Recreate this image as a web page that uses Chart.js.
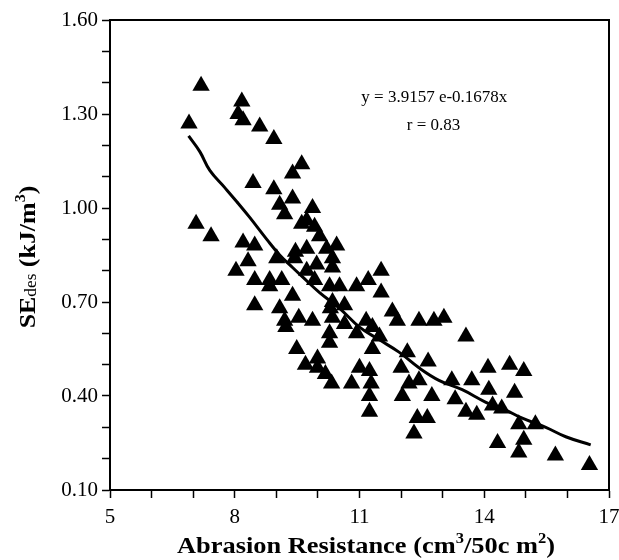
<!DOCTYPE html>
<html>
<head>
<meta charset="utf-8">
<script src="https://cdn.jsdelivr.net/npm/chart.js@4.4.0/dist/chart.umd.min.js"></script>
<style>
  html, body { margin: 0; padding: 0; background: #fff; }
  #wrap { width: 619px; height: 560px; position: relative; }
</style>
</head>
<body>
<div id="wrap"><canvas id="chart"></canvas></div>
<script>
// measured points (abrasion resistance vs SEdes)
const abrasion = [
  6.90, 7.19, 8.17, 8.08, 8.20, 8.60, 8.94, 9.61, 9.39, 8.44,
  8.94, 9.39, 9.08, 9.20, 9.87, 9.73, 7.07, 7.43, 8.20, 8.48,
  8.32, 8.03, 9.01, 9.46, 9.73, 8.48, 8.84, 9.13, 8.84, 9.39,
  8.48, 9.08, 9.20, 9.54, 9.87, 9.23, 9.49, 9.70, 9.99, 10.18,
  10.33, 9.61, 9.92, 10.04, 10.21, 10.45, 10.35, 9.44, 10.35, 9.97,
  9.73, 9.92, 10.28, 10.52, 10.93, 11.21, 11.52, 11.52, 11.79, 11.91,
  12.43, 12.79, 13.03, 10.35, 10.64, 10.30, 10.35, 11.16, 11.31, 13.56,
  10.64, 10.93, 10.28, 10.28, 11.31, 12.15, 12.65, 9.99, 11.00, 11.24,
  12.00, 10.81, 11.28, 12.19, 12.43, 13.22, 13.70, 11.24, 12.03, 12.74,
  14.09, 14.11, 13.56, 13.82, 11.24, 12.39, 12.63, 12.31, 11.48, 13.30,
  14.20, 14.42, 14.61, 14.95, 14.73, 14.83, 15.23, 14.95, 14.32, 14.83,
  15.71, 16.53
];
const seDes = [
  1.27, 1.39, 1.34, 1.30, 1.28, 1.26, 1.22, 1.14, 1.11, 1.08,
  1.06, 1.03, 1.01, 0.98, 1.00, 0.96, 0.95, 0.91, 0.89, 0.88,
  0.83, 0.80, 0.84, 0.86, 0.87, 0.77, 0.77, 0.77, 0.75, 0.72,
  0.69, 0.68, 0.64, 0.65, 0.64, 0.62, 0.55, 0.50, 0.49, 0.47,
  0.44, 0.95, 0.94, 0.91, 0.87, 0.88, 0.84, 0.84, 0.81, 0.82,
  0.80, 0.77, 0.75, 0.75, 0.75, 0.77, 0.80, 0.73, 0.67, 0.64,
  0.64, 0.64, 0.65, 0.70, 0.69, 0.68, 0.65, 0.64, 0.62, 0.59,
  0.63, 0.60, 0.60, 0.57, 0.55, 0.54, 0.51, 0.52, 0.49, 0.48,
  0.49, 0.44, 0.44, 0.44, 0.45, 0.45, 0.45, 0.40, 0.40, 0.40,
  0.49, 0.42, 0.35, 0.34, 0.35, 0.33, 0.33, 0.28, 0.59, 0.39,
  0.37, 0.36, 0.50, 0.48, 0.41, 0.31, 0.31, 0.26, 0.25, 0.22,
  0.21, 0.18
];

// fitted curve
const fitX = [6.89, 7.16, 7.40, 7.76, 8.05, 8.36, 8.77, 9.08, 9.39, 9.63, 10.04, 10.52,
  11.00, 11.47, 11.95, 12.43, 12.91, 13.47, 14.04, 14.52, 14.90, 15.48, 15.96, 16.56];
const fitY = [1.23, 1.18, 1.12, 1.065, 1.02, 0.97, 0.90, 0.85, 0.81, 0.78, 0.73, 0.68,
  0.62, 0.58, 0.54, 0.49, 0.45, 0.42, 0.38, 0.355, 0.33, 0.30, 0.27, 0.244];

const xLabels = [5, 8, 11, 14, 17];
const yLabels = [0.10, 0.40, 0.70, 1.00, 1.30, 1.60];
const equationText = 'y = 3.9157 e-0.1678x';
const rText = 'r = 0.83';

const serif = '"Liberation Serif", "Times New Roman", serif';

// draws text made of several runs (sub/superscripts), centred on x
function drawRich(ctx, parts, x, y) {
  let total = 0;
  parts.forEach(p => { ctx.font = p.font; p.w = ctx.measureText(p.text).width; total += p.w; });
  let cx = x - total / 2;
  parts.forEach(p => {
    ctx.font = p.font;
    ctx.fillText(p.text, cx, y + (p.dy || 0));
    cx += p.w;
  });
}

const framePlugin = {
  id: 'frame',
  afterDraw(chart) {
    const { ctx, chartArea: a, scales } = chart;
    ctx.save();
    ctx.strokeStyle = '#000';
    ctx.lineWidth = 2;
    ctx.strokeRect(a.left, a.top, a.right - a.left, a.bottom - a.top);

    ctx.fillStyle = '#000';
    ctx.textAlign = 'center';
    ctx.textBaseline = 'middle';
    ctx.font = '17px ' + serif;
    ctx.fillText(equationText, scales.x.getPixelForValue(12.8), scales.y.getPixelForValue(1.354));
    ctx.fillText(rText, scales.x.getPixelForValue(12.78), scales.y.getPixelForValue(1.262));

    // axis titles
    ctx.textAlign = 'left';
    ctx.textBaseline = 'alphabetic';
    const big = 'bold 24px ' + serif;
    const sup = 'bold 15px ' + serif;

    ctx.save();
    ctx.translate(366, 553);
    ctx.scale(1.1, 1);
    drawRich(ctx, [
      { text: 'Abrasion Resistance (cm', font: big },
      { text: '3', font: sup, dy: -10 },
      { text: '/50c m', font: big },
      { text: '2', font: sup, dy: -10 },
      { text: ')', font: big }
    ], 0, 0);
    ctx.restore();

    ctx.translate(35, 257);
    ctx.rotate(-Math.PI / 2);
    ctx.scale(1.08, 1);
    drawRich(ctx, [
      { text: 'SE', font: big },
      { text: 'des', font: '16px ' + serif, dy: 1 },
      { text: ' (kJ/m', font: big },
      { text: '3', font: sup, dy: -10 },
      { text: ')', font: big }
    ], 0, 0);
    ctx.restore();
  }
};

const points = abrasion.map((x, i) => ({ x: x, y: seDes[i] }));
const fit = fitX.map((x, i) => ({ x: x, y: fitY[i] }));

new Chart(document.getElementById('chart'), {
  type: 'scatter',
  data: {
    datasets: [
      {
        label: 'fit',
        data: fit,
        showLine: true,
        borderColor: '#000',
        borderWidth: 3,
        pointRadius: 0,
        tension: 0.4
      },
      {
        label: 'SEdes',
        data: points,
        pointStyle: 'triangle',
        pointRadius: 10,
        backgroundColor: '#000',
        borderColor: '#000',
        borderWidth: 0
      }
    ]
  },
  options: {
    responsive: true,
    maintainAspectRatio: false,
    animation: false,
    layout: { padding: { top: 20, right: 7, left: 0, bottom: 0 } },
    plugins: { legend: { display: false }, tooltip: { enabled: false } },
    scales: {
      x: {
        type: 'linear',
        min: 5,
        max: 17,
        ticks: {
          stepSize: 1,
          autoSkip: false,
          maxRotation: 0,
          padding: 7,
          color: '#000',
          font: { family: serif, size: 21 },
          callback: v => xLabels.includes(v) ? String(v) : ''
        },
        grid: { drawOnChartArea: false, drawTicks: true, tickLength: 8, tickColor: '#000', tickWidth: 1.5 },
        border: { display: true, color: '#000', width: 2 },
        afterFit(s) { s.height = 70; s.paddingLeft = 0; s.paddingRight = 0; }
      },
      y: {
        min: 0.1,
        max: 1.6,
        ticks: {
          stepSize: 0.1,
          autoSkip: false,
          padding: 4,
          color: '#000',
          font: { family: serif, size: 21 },
          callback: v => yLabels.some(l => Math.abs(l - v) < 1e-6) ? v.toFixed(2) : ''
        },
        grid: { drawOnChartArea: false, drawTicks: true, tickLength: 8, tickColor: '#000', tickWidth: 1.5 },
        border: { display: true, color: '#000', width: 2 },
        afterFit(s) { s.width = 110; s.paddingTop = 0; s.paddingBottom = 0; }
      }
    }
  },
  plugins: [framePlugin]
});
</script>
</body>
</html>
